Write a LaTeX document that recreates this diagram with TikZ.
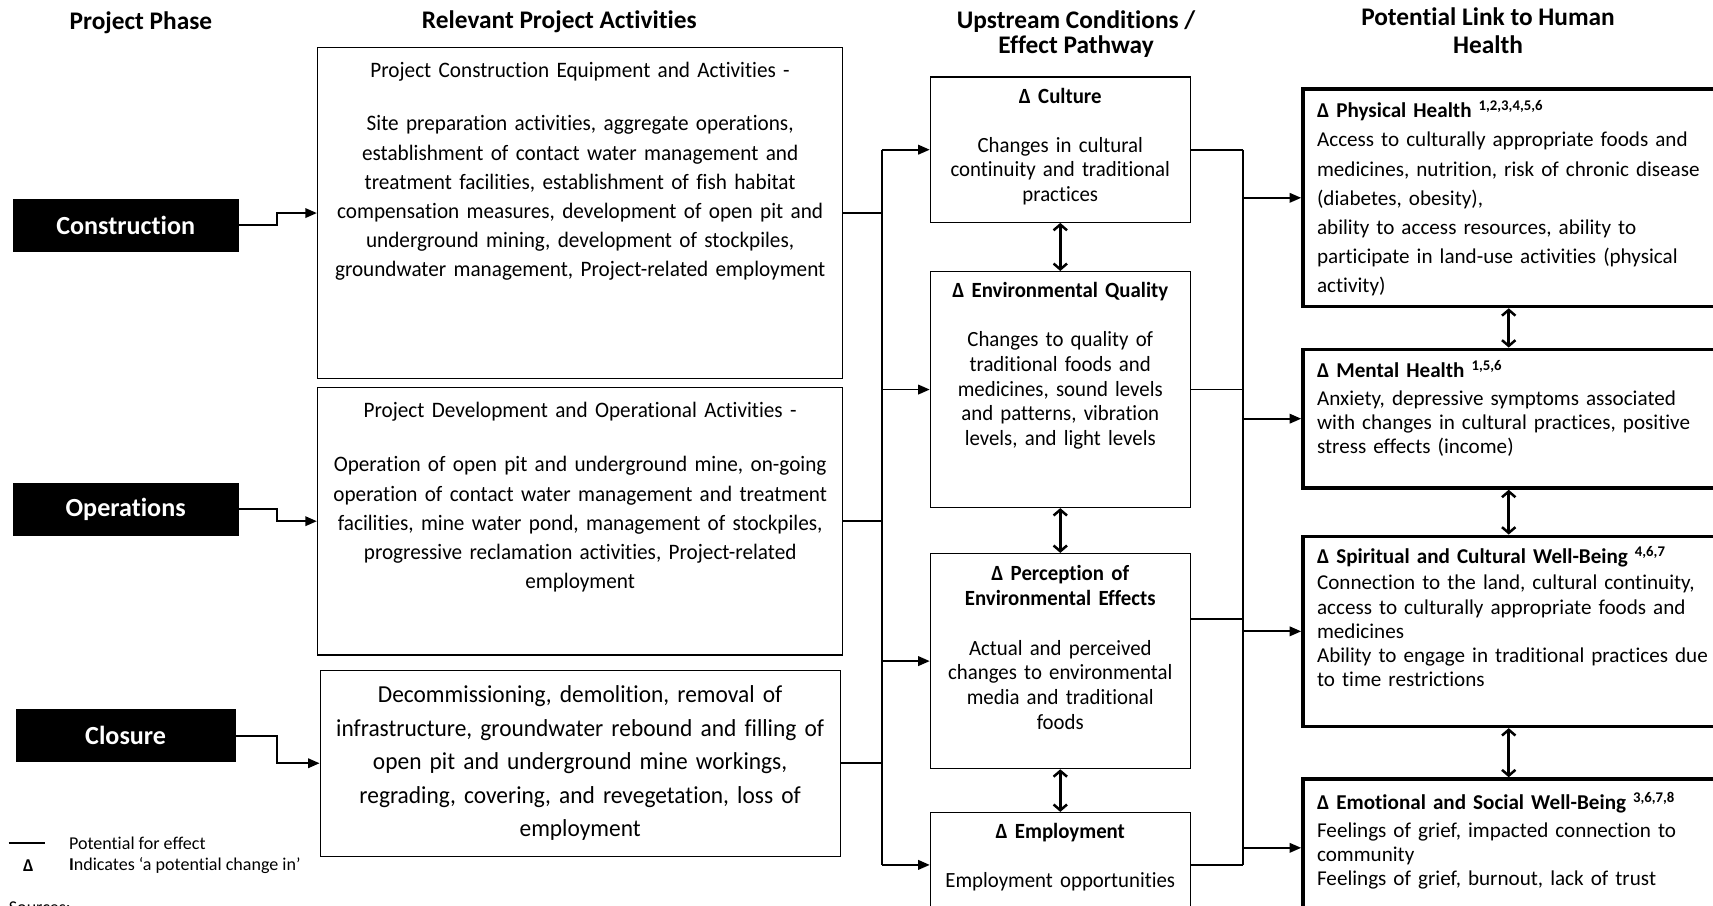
\documentclass[tikz,border=0pt]{standalone}
\usepackage{fontspec}
\setmainfont[Ligatures={TeX,NoCommon}]{Carlito}
\newfontfamily\narrowfont[FakeStretch=0.96, Ligatures={TeX,NoCommon}]{Carlito}
\usetikzlibrary{arrows.meta, positioning}

% box text hung from the top edge: height, top gap, content
\newcommand{\topfill}[3]{\parbox[c][#1][t]{\linewidth}{\vspace*{#2}#3}}

\begin{document}
\begin{tikzpicture}[
  every node/.style={font=\fontsize{11}{12.6}\selectfont},
  header/.style={
    align=center,
    font=\bfseries\fontsize{13.2}{14}\selectfont,
  },
  phase/.style={
    rectangle, fill=black, draw=black, text=white,
    minimum width=4.12cm, minimum height=0.95cm,
    font=\bfseries\fontsize{13.6}{15}\selectfont,
  },
  activity/.style={
    rectangle, draw, line width=0.6pt,
    inner xsep=0.05cm, inner ysep=0pt,
    text width=9.52cm, align=center,
    font=\narrowfont\fontsize{11.5}{15.2}\selectfont,
  },
  pathway/.style={
    rectangle, draw, line width=0.6pt,
    inner xsep=0.05cm, inner ysep=0pt,
    text width=4.66cm, align=center,
    font=\narrowfont\fontsize{11.3}{12.8}\selectfont,
  },
  health/.style={
    rectangle, draw, line width=1.8pt,
    inner xsep=0.26cm, inner ysep=0pt,
    text width=7.6cm, align=left,
    font=\fontsize{11}{12.6}\selectfont,
  },
  legend/.style={font=\fontsize{9.4}{11}\selectfont},
  arrow/.style={-{Triangle[length=6pt,width=5pt]}, line width=0.9pt},
  link/.style={line width=0.9pt},
  twoway/.style={{Straight Barb[length=3pt,width=7pt]}-{Straight Barb[length=3pt,width=7pt]}, line width=1.3pt},
]
\useasboundingbox (0,0) rectangle (31.36,-16.58);

% column headings
\node[header] (hPhase)  at (2.58,-0.42)  {Project Phase};
\node[header] (hAct)    at (10.24,-0.40) {Relevant Project Activities};
\node[header, font=\bfseries\fontsize{13.2}{13}\selectfont]   (hPath)   at (19.70,-0.63) {Upstream Conditions /\\ Effect Pathway};
\node[header, font=\bfseries\fontsize{13.2}{14.7}\selectfont] (hHealth) at (27.24,-0.56) {Potential Link to Human\\ Health};

% project phases
\node[phase] (construction) at (2.30,-4.12)  {Construction};
\node[phase] (operations)   at (2.30,-9.32)  {Operations};
\node[phase, minimum width=4.0cm] (closure) at (2.30,-13.47) {Closure};

% project activities
\node[activity, anchor=north west] (act1) at (5.80,-0.86) {\topfill{6.06cm}{0.27cm}{\centering
  Project Construction Equipment and Activities -\\[12.6pt]
  Site preparation activities, aggregate operations,\\
  establishment of contact water management and\\
  treatment facilities, establishment of fish habitat\\
  compensation measures, development of open pit and\\
  underground mining, development of stockpiles,\\
  groundwater management, Project-related employment}};
\node[activity, below=0.14cm of act1] (act2) {\topfill{4.90cm}{0.27cm}{\centering
  Project Development and Operational Activities -\\[13.2pt]
  Operation of open pit and underground mine, on-going\\
  operation of contact water management and treatment\\
  facilities, mine water pond, management of stockpiles,\\
  progressive reclamation activities, Project-related\\
  employment}};
\node[activity, below=0.26cm of act2, text width=9.42cm, minimum height=3.40cm,
      font=\narrowfont\fontsize{12.7}{17.4}\selectfont] (act3) {%
  Decommissioning, demolition, removal of\\
  infrastructure, groundwater rebound and filling of\\
  open pit and underground mine workings,\\
  regrading, covering, and revegetation, loss of\\
  employment};

% upstream conditions
\node[pathway, anchor=north west] (culture) at (17.02,-1.40) {\topfill{2.66cm}{0.20cm}{\centering
  \textbf{Δ Culture}\\[12.8pt]
  Changes in cultural\\ continuity and traditional\\ practices}};
\node[pathway, below=0.88cm of culture] (envq) {\topfill{4.32cm}{0.20cm}{\centering
  \textbf{Δ Environmental Quality}\\[12.8pt]
  Changes to quality of\\ traditional foods and\\ medicines, sound levels\\
  and patterns, vibration\\ levels, and light levels}};
\node[pathway, below=0.82cm of envq] (perception) {\topfill{3.94cm}{0.22cm}{\centering
  \textbf{Δ Perception of\\ Environmental Effects}\\[13.3pt]
  Actual and perceived\\ changes to environmental\\ media and traditional\\ foods}};
\node[pathway, below=0.78cm of perception] (employment) {\topfill{1.92cm}{0.20cm}{\centering
  \textbf{Δ Employment}\\[12.5pt]
  Employment opportunities}};

% links to human health
\node[health, anchor=north west, font=\fontsize{11}{15.2}\selectfont] (physical) at (23.82,-1.60) {\topfill{3.98cm}{0.20cm}{\raggedright
  \textbf{Δ Physical Health \textsuperscript{1,2,3,4,5,6}}\\
  Access to culturally appropriate foods and\\
  medicines, nutrition, risk of chronic disease\\
  (diabetes, obesity),\\
  ability to access resources, ability to\\
  participate in land-use activities (physical\\
  activity)}};
\node[health, below=0.72cm of physical] (mental) {\topfill{2.54cm}{0.20cm}{\raggedright
  \textbf{Δ Mental Health \textsuperscript{1,5,6}}\\[1.5pt]
  Anxiety, depressive symptoms associated\\
  with changes in cultural practices, positive\\
  stress effects (income)}};
\node[health, below=0.82cm of mental] (spiritual) {\topfill{3.48cm}{0.18cm}{\raggedright
  \textbf{Δ Spiritual and Cultural Well-Being \textsuperscript{4,6,7}}\\[1pt]
  Connection to the land, cultural continuity,\\
  access to culturally appropriate foods and\\
  medicines\\
  Ability to engage in traditional practices due\\
  to time restrictions}};
\node[health, below=0.90cm of spiritual] (emotional) {\topfill{2.52cm}{0.24cm}{\raggedright
  \textbf{Δ Emotional and Social Well-Being \textsuperscript{3,6,7,8}}\\[1.5pt]
  Feelings of grief, impacted connection to\\
  community\\
  Feelings of grief, burnout, lack of trust}};

% phases into activities
\draw[arrow] (construction.east) -- ++(0.70,0) |- (act1.west);
\draw[arrow] (operations.east)   -- ++(0.70,0) |- (act2.west);
\draw[arrow] (closure.east)      -- ++(0.76,0) |- (act3.west);

% activities -> upstream conditions
\coordinate (busL) at (16.14,0);
\draw[link] (act1.east) -- (act1.east -| busL);
\draw[link] (act2.east) -- (act2.east -| busL);
\draw[link] (act3.east) -- (act3.east -| busL);
\draw[link] (culture.west -| busL) -- (employment.west -| busL);
\foreach \n in {culture, envq, perception, employment}
  \draw[arrow] (\n.west -| busL) -- (\n.west);

% upstream conditions -> health
\coordinate (busR) at (22.76,0);
\coordinate (percOut) at ([yshift=0.77cm]perception.east);
\draw[link] (culture.east)    -- (culture.east -| busR);
\draw[link] (envq.east)       -- (envq.east -| busR);
\draw[link] (percOut)         -- (percOut -| busR);
\draw[link] (employment.east) -- (employment.east -| busR);
\draw[link] (culture.east -| busR) -- (employment.east -| busR);
\foreach \n in {physical, mental, spiritual, emotional}
  \draw[arrow] (\n.west -| busR) -- (\n.west);

% two-way links inside the columns
\coordinate (midR) at (27.62,0);
\draw[twoway] (culture.south)    -- (envq.north);
\draw[twoway] (envq.south)       -- (perception.north);
\draw[twoway] (perception.south) -- (employment.north);
\draw[twoway] (physical.south -| midR)  -- (mental.north -| midR);
\draw[twoway] (mental.south -| midR)    -- (spiritual.north -| midR);
\draw[twoway] (spiritual.south -| midR) -- (emotional.north -| midR);

% key
\coordinate (keyA) at (0.16,-15.44);
\coordinate (keyB) at (0.82,-15.44);
\draw[link, line width=1.1pt] (keyA) -- (keyB);
\node[legend, anchor=west] (keyLine) at (1.14,-15.44) {Potential for effect};
\node[legend, font=\bfseries\fontsize{9.4}{11}\selectfont] (keyDelta) at (0.52,-15.84) {Δ};
\node[legend, anchor=west] (keyText) at (1.14,-15.84) {\textbf{I}ndicates ‘a potential change in’};
\node[legend, anchor=north west] (sources) at (0.04,-16.38) {Sources:};

\end{tikzpicture}
\end{document}
